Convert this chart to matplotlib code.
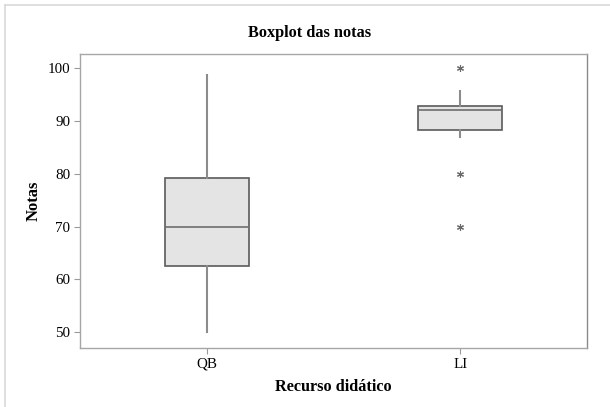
import matplotlib.pyplot as plt
from matplotlib.lines import Line2D

plt.rcParams['font.family'] = ['Liberation Serif', 'DejaVu Serif']

# summary values per teaching resource
grupos = ["QB", "LI"]
minimo = [50, 87]
q1 = [62.5, 88.3]
mediana = [70, 92]
q3 = [79.2, 92.9]
maximo = [98.7, 95.6]
outliers = [[], [100, 80, 70]]

stats = []
for i, g in enumerate(grupos):
    stats.append(dict(label=g, whislo=minimo[i], q1=q1[i], med=mediana[i],
                      q3=q3[i], whishi=maximo[i], fliers=outliers[i]))

fig = plt.figure(figsize=(6.1, 4.07), dpi=100)
ax = fig.add_axes([0.1311, 0.145, 0.8312, 0.7223])

ax.bxp(stats, positions=[1, 2], widths=0.33, patch_artist=True, showcaps=False,
       boxprops=dict(facecolor="#e4e4e4", edgecolor="#5a5a5a", linewidth=1.2),
       medianprops=dict(color="#6e6e6e", linewidth=1.2),
       whiskerprops=dict(color="#8c8c8c", linewidth=1.5),
       flierprops=dict(marker=(6, 2, 0), markersize=5, markeredgecolor="#6a6a6a",
                       markerfacecolor="#6a6a6a", markeredgewidth=0.8, linestyle="none"))

ax.set_xlim(0.5, 2.5)
ax.set_ylim(47.0, 102.7)
ax.set_yticks([50, 60, 70, 80, 90, 100])
ax.set_xticks([1, 2])
ax.set_xticklabels(grupos)
ax.tick_params(axis="both", colors="#9a9a9a", length=4, width=0.8, labelsize=10.8,
               labelcolor="black", pad=3)

for s in ax.spines.values():
    s.set_color("#a6a6a6")
    s.set_linewidth(1.0)
ax.spines["right"].set_color("#8a8a8a")

ax.set_ylabel("Notas", fontsize=12, fontweight="bold", labelpad=4)
ax.set_xlabel("Recurso didático", fontsize=11.7, fontweight="bold", labelpad=6)
fig.text(0.508, 0.92, "Boxplot das notas", ha="center", va="center",
         fontsize=11.7, fontweight="bold")

# thin frame lines along the top and left of the graph window
fig.add_artist(Line2D([5 / 610, 5 / 610], [0, 1 - 5 / 407], transform=fig.transFigure,
                      color="#d9d9d9", linewidth=1.2))
fig.add_artist(Line2D([5 / 610, 1], [1 - 5 / 407, 1 - 5 / 407], transform=fig.transFigure,
                      color="#d9d9d9", linewidth=1.2))

fig.savefig("out.png", dpi=100)
